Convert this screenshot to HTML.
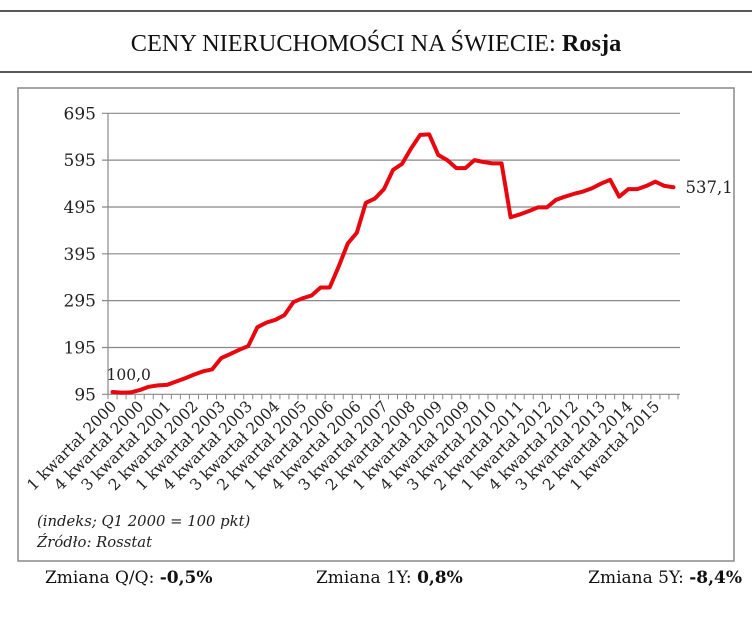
<!DOCTYPE html>
<html><head><meta charset="utf-8"><style>
body{margin:0;background:#fff;}
svg{display:block;font-family:"Liberation Serif",serif;}
.dj{font-family:"DejaVu Serif",serif;}
</style></head><body>
<svg width="752" height="624" viewBox="0 0 752 624">
<line x1="0" y1="11" x2="752" y2="11" stroke="#222" stroke-width="1.5"/>
<text x="376" y="51" text-anchor="middle" font-size="24.3" fill="#111">CENY NIERUCHOMOŚCI NA ŚWIECIE: <tspan font-weight="bold">Rosja</tspan></text>
<line x1="0" y1="72" x2="752" y2="72" stroke="#222" stroke-width="1.5"/>
<rect x="18" y="88" width="716" height="473" fill="none" stroke="#888" stroke-width="1.5"/>
<g id="grid"></g><g id="xaxis"></g><g id="series"></g>
<text class="dj" x="37" y="526" font-size="14.8" font-style="italic" fill="#222">(indeks; Q1 2000 = 100 pkt)</text>
<text class="dj" x="37" y="547" font-size="14.8" font-style="italic" fill="#222">Źródło: Rosstat</text>
<text class="dj" x="45" y="583" font-size="17" fill="#111">Zmiana Q/Q: <tspan font-weight="bold">-0,5%</tspan></text>
<text class="dj" x="316" y="583" font-size="17" fill="#111">Zmiana 1Y: <tspan font-weight="bold">0,8%</tspan></text>
<text class="dj" x="742" y="583" font-size="17" text-anchor="end" fill="#111">Zmiana 5Y: <tspan font-weight="bold">-8,4%</tspan></text>
</svg>
<script>
const yTicks=[95,195,295,395,495,595,695];
const xLabels=["1 kwartał 2000","4 kwartał 2000","3 kwartał 2001","2 kwartał 2002","1 kwartał 2003","4 kwartał 2003","3 kwartał 2004","2 kwartał 2005","1 kwartał 2006","4 kwartał 2006","3 kwartał 2007","2 kwartał 2008","1 kwartał 2009","4 kwartał 2009","3 kwartał 2010","2 kwartał 2011","1 kwartał 2012","4 kwartał 2012","3 kwartał 2013","2 kwartał 2014","1 kwartał 2015"];
const values=[100,98.6,99,104,111,114,115,122,129,137,144,148,172,181,190,198,238,248,254,264,292,300,306,323,323,368,417,440,504,513,533,574,587,620,649,650,606,595,578,578,595,591,588,588,473,479,486,494,494,510,517,523,528,535,545,553,517,533,533,540,549,540,537.1];
const firstLabel="100,0", lastLabel="537,1";
const NS="http://www.w3.org/2000/svg";
const L=108,R=678,T=113.3,B=394.3,yMin=95,yMax=695;
const n=values.length,cw=(R-L)/n;
const xs=i=>L+cw*(i+0.5);
const ys=v=>B-(v-yMin)/(yMax-yMin)*(B-T);
function mk(tag,attrs,parent){const e=document.createElementNS(NS,tag);for(const k in attrs)e.setAttribute(k,attrs[k]);parent.appendChild(e);return e;}
const grid=document.getElementById('grid');
yTicks.forEach(t=>{
  const ln=mk('line',{x1:L-6,x2:R+2,y1:ys(t),y2:ys(t),stroke:'#888','stroke-width':1.2},grid);
  
  
  const tx=mk('text',{x:L-12,y:ys(t)+6,'text-anchor':'end','font-size':17,'class':'dj',fill:'#222'},grid);
  tx.textContent=t;
  
  
});
const xa=document.getElementById('xaxis');
const ax=mk('line',{x1:L,x2:L,y1:T,y2:B,stroke:'#888','stroke-width':1.2},xa);


for(let i=0;i<=n;i++){
  const tk=mk('line',{x1:L+cw*i,x2:L+cw*i,y1:B,y2:B+5,stroke:'#888','stroke-width':1},xa);
  
  
}
xLabels.forEach((lab,j)=>{
  const x=xs(j*3)+5,y=B+13;
  const t=mk('text',{x:x,y:y,'text-anchor':'end','font-size':15.5,'class':'dj',fill:'#222',transform:`rotate(-45 ${x} ${y})`},xa);
  t.textContent=lab;
  
  
});
const s=document.getElementById('series');
const p=mk('polyline',{points:values.map((v,i)=>xs(i)+','+ys(v)).join(' '),fill:'none',stroke:'#e8070e','stroke-width':4,'stroke-linejoin':'round','stroke-linecap':'round'},s);


const f=mk('text',{x:xs(0)-6,y:ys(values[0])-12,'font-size':15.5,'class':'dj',fill:'#222'},s);
f.textContent=firstLabel;


const la=mk('text',{x:xs(n-1)+12,y:ys(values[n-1])+6,'font-size':16.5,'class':'dj',fill:'#222'},s);
la.textContent=lastLabel;


</script>
</body></html>
